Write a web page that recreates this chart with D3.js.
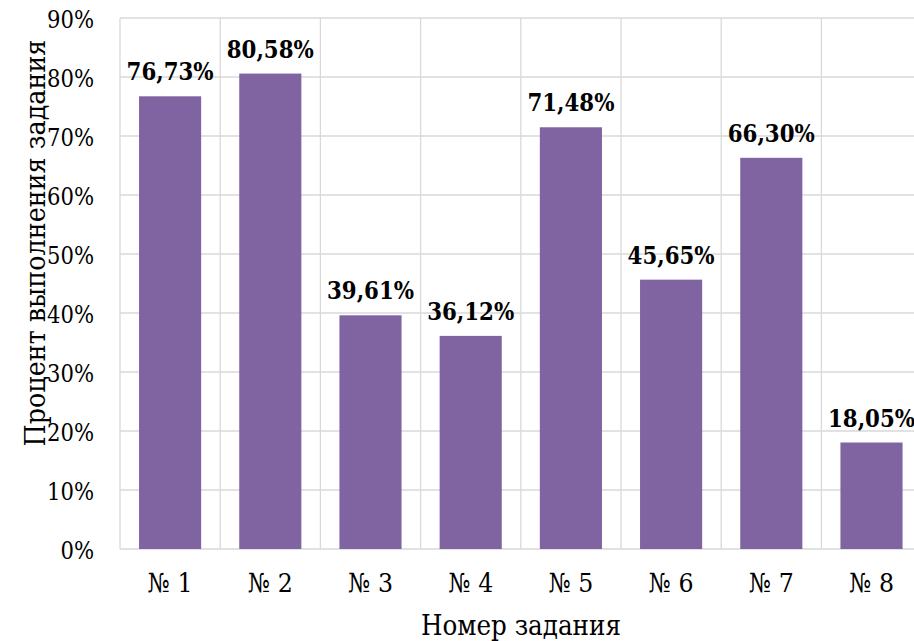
<!DOCTYPE html>
<html><head><meta charset="utf-8">
<script src="https://cdn.jsdelivr.net/npm/d3@7"></script>
<style>body{margin:0;background:#fff}svg{display:block}
svg text{font-family:"DejaVu Serif Condensed","DejaVu Serif",serif !important;font-stretch:condensed}</style>
</head><body>
<svg id="c" width="914" height="641"></svg>
<script>
const categories = ["№ 1","№ 2","№ 3","№ 4","№ 5","№ 6","№ 7","№ 8"];
const values = [76.73, 80.58, 39.61, 36.12, 71.48, 45.65, 66.30, 18.05];
const yTicks = [0,10,20,30,40,50,60,70,80,90];
const yTitle = "Процент выполнения задания";
const xTitle = "Номер задания";

const svg = d3.select("#c");
const L = 120, R = 921.6, T = 18, B = 549;

const x = d3.scaleBand().domain(categories).range([L, R]).paddingInner(0.38).paddingOuter(0.19);
const y = d3.scaleLinear().domain([0, 90]).range([B, T]);

// fit a text element's font size to a target width, return the size
function fit(sel, width) {
  const node = sel.node();
  const w = node.getComputedTextLength();
  const fs = parseFloat(sel.attr("font-size"));
  const nfs = fs * width / w;
  sel.attr("font-size", nfs);
  return nfs;
}

svg.append("g").selectAll("line").data(yTicks).join("line")
  .attr("x1", L).attr("x2", R).attr("y1", d => y(d)).attr("y2", d => y(d))
  .attr("stroke", "#d9d9d9").attr("stroke-width", 1.3);
const bounds = d3.range(categories.length + 1).map(i => L + i * (R - L) / categories.length);
svg.append("g").selectAll("line").data(bounds).join("line")
  .attr("x1", d => d).attr("x2", d => d).attr("y1", T).attr("y2", B)
  .attr("stroke", "#d9d9d9").attr("stroke-width", 1.3);

svg.append("g").selectAll("rect").data(values).join("rect")
  .attr("x", (d, i) => x(categories[i])).attr("width", x.bandwidth())
  .attr("y", d => y(d)).attr("height", d => B - y(d))
  .attr("fill", "#8064a2");

const lbl = svg.append("g").selectAll("text").data(values).join("text")
  .attr("x", (d, i) => x(categories[i]) + x.bandwidth() / 2)
  .attr("y", d => y(d) - 16)
  .attr("text-anchor", "middle")
  .attr("font-weight", "bold").attr("font-size", 23)
  .attr("fill", "#000")
  .text(d => d.toFixed(2).replace(".", ",") + "%");
lbl.attr("font-size", fit(lbl.filter((d, i) => i === 0), 87));

const yAxis = d3.axisLeft(y).tickValues(yTicks).tickSize(0).tickPadding(26).tickFormat(d => d + "%");
const gy = svg.append("g").attr("transform", `translate(${L},0)`).call(yAxis);
gy.select(".domain").remove();
gy.selectAll("text").attr("font-size", 22).attr("fill", "#000").attr("dy", "0.4em");
gy.selectAll("text").attr("font-size", fit(gy.selectAll("text").filter(d => d === 90), 47));

const xAxis = d3.axisBottom(x).tickSize(0).tickPadding(0);
const gx = svg.append("g").attr("transform", `translate(0,${B})`).call(xAxis);
gx.select(".domain").remove();
gx.selectAll("text").attr("font-size", 22).attr("fill", "#000").attr("y", 43).attr("dy", 0);
gx.selectAll("text").attr("font-size", fit(gx.selectAll("text").filter(d => d === "№ 1"), 45));

const xt = svg.append("text").attr("x", 521).attr("y", 635).attr("text-anchor", "middle")
  .attr("font-size", 27).attr("fill", "#000").text(xTitle);
fit(xt, 200);
const yt = svg.append("text").attr("transform", "translate(45,243) rotate(-90)").attr("text-anchor", "middle")
  .attr("font-size", 27).attr("fill", "#000").text(yTitle);
fit(yt, 407);
</script>
</body></html>
